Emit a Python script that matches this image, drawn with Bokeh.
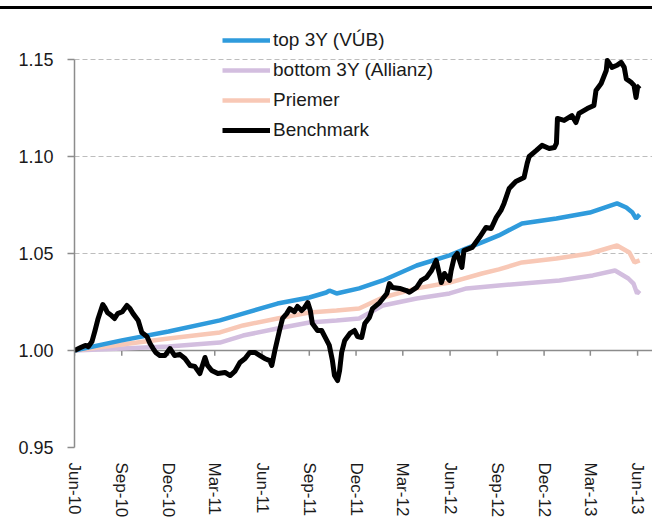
import pandas as pd
from bokeh.plotting import figure
from bokeh.models import (Range1d, FixedTicker, DatetimeTickFormatter, PrintfTickFormatter,
                          Span, Legend, LegendItem, Div, ColumnDataSource)
from bokeh.layouts import column
from bokeh.embed import file_html
from bokeh.resources import INLINE

# ---------------- data ----------------
series_names = ["top 3Y (VÚB)", "bottom 3Y (Allianz)", "Priemer", "Benchmark"]

tick_dates = ["2010-06-01", "2010-09-01", "2010-12-01", "2011-03-01", "2011-06-01",
              "2011-09-01", "2011-12-01", "2012-03-01", "2012-06-01", "2012-09-01",
              "2012-12-01", "2013-03-01", "2013-06-01"]
tick_labels = ["Jun-10", "Sep-10", "Dec-10", "Mar-11", "Jun-11", "Sep-11", "Dec-11",
               "Mar-12", "Jun-12", "Sep-12", "Dec-12", "Mar-13", "Jun-13"]
y_ticks = [0.95, 1.00, 1.05, 1.10, 1.15]

bench_dates = [
    "2010-06-01", "2010-06-13", "2010-06-22", "2010-06-28", "2010-07-05", "2010-07-11", "2010-07-17", "2010-07-26", "2010-07-30", "2010-08-04",
    "2010-08-12", "2010-08-18", "2010-08-24", "2010-09-02", "2010-09-11", "2010-09-17", "2010-09-23", "2010-10-03", "2010-10-10", "2010-10-20",
    "2010-10-26", "2010-11-01", "2010-11-06", "2010-11-14", "2010-11-24", "2010-12-04", "2010-12-13", "2010-12-23", "2011-01-02", "2011-01-12",
    "2011-01-21", "2011-01-31", "2011-02-10", "2011-02-15", "2011-02-23", "2011-03-07", "2011-03-21", "2011-03-31", "2011-04-09", "2011-04-19",
    "2011-04-29", "2011-05-08", "2011-05-18", "2011-05-28", "2011-06-06", "2011-06-16", "2011-06-20", "2011-06-26", "2011-07-05", "2011-07-11",
    "2011-07-19", "2011-07-25", "2011-08-03", "2011-08-09", "2011-08-17", "2011-08-23", "2011-08-29", "2011-09-03", "2011-09-07", "2011-09-17",
    "2011-09-25", "2011-10-03", "2011-10-10", "2011-10-16", "2011-10-20", "2011-10-26", "2011-10-30", "2011-11-03", "2011-11-09", "2011-11-19",
    "2011-11-28", "2011-12-04", "2011-12-12", "2011-12-18", "2011-12-27", "2012-01-02", "2012-01-16", "2012-01-30", "2012-02-04", "2012-02-10",
    "2012-02-24", "2012-03-08", "2012-03-14", "2012-03-28", "2012-04-06", "2012-04-16", "2012-04-26", "2012-05-05", "2012-05-11", "2012-05-15",
    "2012-05-21", "2012-05-31", "2012-06-03", "2012-06-09", "2012-06-15", "2012-06-24", "2012-06-28", "2012-07-14", "2012-07-28", "2012-08-10",
    "2012-08-20", "2012-08-30", "2012-09-08", "2012-09-14", "2012-09-24", "2012-10-07", "2012-10-23", "2012-10-29", "2012-11-02", "2012-11-16",
    "2012-11-27", "2012-12-11", "2012-12-21", "2012-12-25", "2012-12-27", "2013-01-09", "2013-01-24", "2013-02-01", "2013-02-07", "2013-02-23",
    "2013-03-08", "2013-03-12", "2013-03-22", "2013-04-01", "2013-04-03", "2013-04-12", "2013-04-22", "2013-04-30", "2013-05-06", "2013-05-10",
    "2013-05-20", "2013-05-25", "2013-05-29", "2013-06-01", "2013-06-05"]
bench_values = [
    1.000, 1.0015, 1.0026, 1.002, 1.0046, 1.0103, 1.0165, 1.0237, 1.0222, 1.0196,
    1.018, 1.0165, 1.019, 1.020, 1.0232, 1.0216, 1.019, 1.0155, 1.0093, 1.0072,
    1.0036, 1.001, 0.999, 0.9974, 0.9974, 1.001, 0.9974, 0.998, 0.9959, 0.9923,
    0.9918, 0.9881, 0.9964, 0.9923, 0.9897, 0.9881, 0.9887, 0.9871, 0.9892, 0.9938,
    0.9959, 0.999, 0.999, 0.9974, 0.9959, 0.9948, 0.9923, 1.000, 1.0103, 1.0165,
    1.019, 1.0216, 1.020, 1.0227, 1.0206, 1.0222, 1.0247, 1.0206, 1.0139, 1.0103,
    1.0103, 1.0062, 1.0026, 0.9948, 0.9871, 0.9845, 0.9897, 0.999, 1.0052, 1.0088,
    1.0103, 1.0072, 1.0067, 1.0139, 1.017, 1.0216, 1.0247, 1.0294, 1.0345, 1.0325,
    1.032, 1.0309, 1.030, 1.0325, 1.0361, 1.0376, 1.0412, 1.0464, 1.0397, 1.035,
    1.0397, 1.0361, 1.0412, 1.0479, 1.050, 1.0428, 1.0515, 1.0531, 1.0582, 1.0634,
    1.0629, 1.0686, 1.0722, 1.0758, 1.0835, 1.0871, 1.0892, 1.0964, 1.100, 1.1031,
    1.1057, 1.1041, 1.1046, 1.1067, 1.1196, 1.1186, 1.1211, 1.1175, 1.1222, 1.1247,
    1.1263, 1.134, 1.1376, 1.1443, 1.1495, 1.1459, 1.147, 1.1485, 1.1459, 1.140,
    1.1381, 1.1366, 1.1304, 1.1356, 1.1366]

top_dates = ["2010-06-01", "2010-09-01", "2010-12-01", "2011-03-11", "2011-04-25", "2011-07-01",
             "2011-09-01", "2011-10-04", "2011-10-10", "2011-10-24", "2011-12-07", "2012-01-22",
             "2012-03-28", "2012-05-31", "2012-07-03", "2012-08-02", "2012-09-04", "2012-10-19",
             "2012-12-25", "2013-02-28", "2013-04-22", "2013-05-10", "2013-05-22", "2013-05-29",
             "2013-06-05"]
top_values = [1.000, 1.0052, 1.0098, 1.0155, 1.019, 1.0242,
              1.0273, 1.0299, 1.0309, 1.0294, 1.032, 1.0361,
              1.0438, 1.049, 1.0526, 1.0557, 1.0593, 1.0655,
              1.068, 1.0711, 1.0758, 1.0737, 1.0711, 1.068,
              1.0701]

avg_dates = ["2010-06-01", "2010-09-01", "2010-12-01", "2011-03-11", "2011-04-25", "2011-07-01",
             "2011-09-01", "2011-10-24", "2011-12-07", "2012-01-22", "2012-03-28", "2012-05-31",
             "2012-08-02", "2012-09-04", "2012-10-19", "2012-12-25", "2013-02-28", "2013-04-22",
             "2013-05-16", "2013-05-26", "2013-06-05"]
avg_values = [1.000, 1.0031, 1.0062, 1.0093, 1.0129, 1.0165,
              1.0196, 1.0206, 1.0216, 1.0273, 1.032, 1.035,
              1.0397, 1.0418, 1.0454, 1.0474, 1.050, 1.0541,
              1.0505, 1.0454, 1.0464]

bottom_dates = ["2010-06-01", "2010-09-01", "2010-12-01", "2011-03-11", "2011-04-25", "2011-07-01",
                "2011-09-01", "2011-10-24", "2011-12-07", "2012-01-22", "2012-03-28", "2012-05-31",
                "2012-07-03", "2012-09-04", "2012-12-31", "2013-03-06", "2013-04-18", "2013-05-14",
                "2013-05-24", "2013-05-31", "2013-06-05"]
bottom_values = [1.000, 1.001, 1.002, 1.0041, 1.0077, 1.0113,
                 1.0144, 1.0155, 1.0165, 1.0232, 1.0268, 1.0294,
                 1.032, 1.0335, 1.0361, 1.0387, 1.0412, 1.0371,
                 1.0345, 1.0294, 1.0309]

# ---------------- figure ----------------
FONT = "Liberation Sans"
x0 = pd.Timestamp("2010-06-01")
x1 = pd.Timestamp("2013-06-30")

p = figure(width=652, height=514, x_axis_type="datetime",
           x_range=Range1d(x0, x1), y_range=Range1d(0.95, 1.1675),
           output_backend="svg", toolbar_location=None,
           min_border_left=74, min_border_right=0, min_border_top=16, min_border_bottom=76)
p.outline_line_color = None
p.background_fill_color = "white"

# grid
p.xgrid.grid_line_color = None
p.ygrid.grid_line_color = "#BDBDBD"
p.ygrid.grid_line_dash = "5 3"
p.ygrid.grid_line_width = 1.2
p.ygrid.ticker = FixedTicker(ticks=y_ticks)

# y axis
p.yaxis.ticker = FixedTicker(ticks=y_ticks)
p.yaxis.bounds = (0.95, 1.15)
p.yaxis.formatter = PrintfTickFormatter(format="%.2f")
p.yaxis.axis_line_color = "#8C8C8C"
p.yaxis.axis_line_width = 1.5
p.yaxis.major_tick_line_color = "#8C8C8C"
p.yaxis.major_tick_line_width = 1.5
p.yaxis.major_tick_out = 7
p.yaxis.major_tick_in = 0
p.yaxis.minor_tick_line_color = None
p.yaxis.major_label_standoff = 14
p.yaxis.major_label_text_font = FONT
p.yaxis.major_label_text_font_size = "18px"
p.yaxis.major_label_text_color = "#1A1A1A"

# x axis (labels only at bottom)
tick_ts = [pd.Timestamp(d) for d in tick_dates]
p.xaxis.ticker = FixedTicker(ticks=[t.value / 1e6 for t in tick_ts])
fmt = "%b-%y"
p.xaxis.formatter = DatetimeTickFormatter(years=fmt, months=fmt, days=fmt, hours=fmt,
                                          hourmin=fmt, minutes=fmt, minsec=fmt,
                                          seconds=fmt, milliseconds=fmt, microseconds=fmt)
p.xaxis.axis_line_color = None
p.xaxis.major_tick_line_color = None
p.xaxis.minor_tick_line_color = None
p.xaxis.major_label_orientation = "vertical"
p.xaxis.major_label_standoff = 9
p.xaxis.major_label_text_font = FONT
p.xaxis.major_label_text_font_size = "17px"
p.xaxis.major_label_text_color = "#1A1A1A"

# axis line crossing at 1.00 with tick marks
p.add_layout(Span(location=1.0, dimension="width", line_color="#8C8C8C",
                  line_width=1.5, level="underlay"))
tick_src = ColumnDataSource(dict(x=tick_ts, y0=[1.0] * len(tick_ts),
                                 y1=[1.0 - 0.0027] * len(tick_ts)))
p.segment(x0="x", y0="y0", x1="x", y1="y1", source=tick_src,
          line_color="#8C8C8C", line_width=1.5, level="underlay")

# series
r_bottom = p.line(pd.to_datetime(bottom_dates), bottom_values, line_color="#D3BEDF", line_width=4.5)
r_avg = p.line(pd.to_datetime(avg_dates), avg_values, line_color="#F8C8B6", line_width=4.5)
r_top = p.line(pd.to_datetime(top_dates), top_values, line_color="#2F9BDC", line_width=4.5)
r_bench = p.line(pd.to_datetime(bench_dates), bench_values, line_color="#000000", line_width=5,
                 line_join="round")

legend = Legend(items=[LegendItem(label=series_names[0], renderers=[r_top]),
                       LegendItem(label=series_names[1], renderers=[r_bottom]),
                       LegendItem(label=series_names[2], renderers=[r_avg]),
                       LegendItem(label=series_names[3], renderers=[r_bench])],
                location=(148, 302), orientation="vertical",
                glyph_width=48, glyph_height=30, label_height=30, label_standoff=3,
                spacing=0, padding=0, margin=0,
                background_fill_alpha=0, border_line_color=None,
                label_text_font=FONT, label_text_font_size="19px",
                label_text_color="#1A1A1A")
p.add_layout(legend, "center")

top_rule = Div(text="", width=652, height=3, margin=(6, 0, 0, 0),
               styles={"background-color": "black"})

layout = column(top_rule, p, spacing=0)
html = file_html(layout, INLINE)
open("out.html", "w").write(html)
